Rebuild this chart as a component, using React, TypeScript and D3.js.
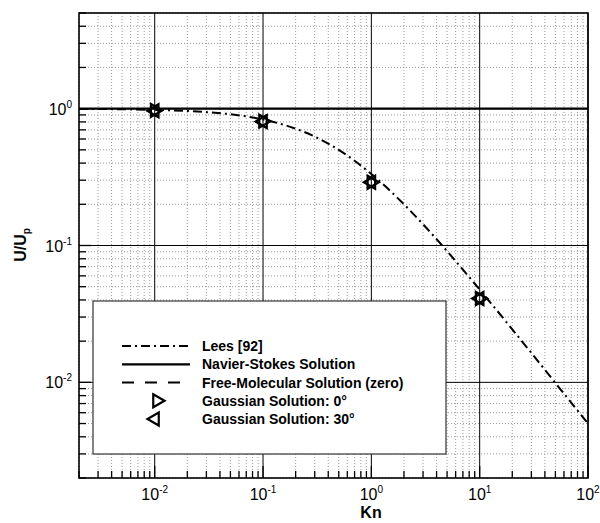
import React from "react";
import * as d3 from "d3";

// Lees [92] curve
const leesKn = [0.002, 0.005, 0.01, 0.02, 0.03, 0.05, 0.1, 0.2, 0.3, 0.5, 1, 2, 3, 5, 10, 20, 30, 50, 100];
const leesU = [0.996, 0.99, 0.98, 0.962, 0.943, 0.91, 0.833, 0.714, 0.625, 0.5, 0.333, 0.2, 0.143, 0.091, 0.0476, 0.0244, 0.0164, 0.0099, 0.005];

// Navier-Stokes
const nsKn = [0.002, 100];
const nsU = [1, 1];

// Gaussian solutions
const gaussKn = [0.01, 0.1, 1, 10];
const gauss0 = [0.97, 0.81, 0.29, 0.041];
const gauss30 = [0.965, 0.805, 0.29, 0.041];

const xTickExps = [-2, -1, 0, 1, 2];
const yTickExps = [-2, -1, 0];

const legendLabels = [
  "Lees [92]",
  "Navier-Stokes Solution",
  "Free-Molecular Solution (zero)",
  "Gaussian Solution: 0°",
  "Gaussian Solution: 30°",
];

const FONT = "'Liberation Sans', Arial, Helvetica, sans-serif";

export default function App() {
  const L = 79, R = 588, T = 13, B = 478;
  const x = d3.scaleLog().domain([0.002, 100]).range([L, R]);
  const y = d3.scaleLog().domain([0.002, 5]).range([B, T]);

  const xMinor: number[] = [];
  for (let e = -3; e <= 2; e++) for (let m = 1; m <= 9; m++) {
    const v = m * Math.pow(10, e);
    if (v >= 0.002 * 0.9999 && v <= 100 * 1.0001) xMinor.push(v);
  }
  const yMinor: number[] = [];
  for (let e = -3; e <= 0; e++) for (let m = 1; m <= 9; m++) {
    const v = m * Math.pow(10, e);
    if (v >= 0.002 * 0.9999 && v <= 5 * 1.0001) yMinor.push(v);
  }
  const isMajor = (v: number) => Math.abs(Math.log10(v) - Math.round(Math.log10(v))) < 1e-9;

  const lineGen = d3
    .line<[number, number]>()
    .x((d) => x(d[0]))
    .y((d) => y(d[1]))
    .curve(d3.curveMonotoneX);

  const lees = lineGen(leesKn.map((k, i) => [k, leesU[i]] as [number, number])) || "";
  const ns = lineGen(nsKn.map((k, i) => [k, nsU[i]] as [number, number])) || "";

  const H = 13;
  const W = (H * Math.sqrt(3)) / 2;
  const triRight = (cx: number, cy: number) =>
    `M${cx - W / 3},${cy - H / 2}L${cx + (2 * W) / 3},${cy}L${cx - W / 3},${cy + H / 2}Z`;
  const triLeft = (cx: number, cy: number) =>
    `M${cx + W / 3},${cy - H / 2}L${cx - (2 * W) / 3},${cy}L${cx + W / 3},${cy + H / 2}Z`;

  const legX = 93, legY = 301, legW = 353, legH = 153;
  const entryY = [346, 364.3, 382.6, 400.8, 419];
  const lineX1 = 122, lineX2 = 190, textX = 202;

  return (
    <svg
      width={600}
      height={523}
      style={{ position: "absolute", left: 0, top: 0, background: "#fff" }}
      fontFamily={FONT}
    >
      <rect x={0} y={0} width={600} height={523} fill="#fff" />
      {/* minor grid */}
      {xMinor.filter((v) => !isMajor(v)).map((v, i) => (
        <line key={"xg" + i} x1={x(v)} x2={x(v)} y1={T} y2={B} stroke="#9a9a9a" strokeWidth={1} strokeDasharray="1,2" />
      ))}
      {yMinor.filter((v) => !isMajor(v)).map((v, i) => (
        <line key={"yg" + i} x1={L} x2={R} y1={y(v)} y2={y(v)} stroke="#9a9a9a" strokeWidth={1} strokeDasharray="1,2" />
      ))}
      {/* major grid */}
      {xTickExps.map((e) => (
        <line key={"xM" + e} x1={x(Math.pow(10, e))} x2={x(Math.pow(10, e))} y1={T} y2={B} stroke="#000" strokeWidth={1} />
      ))}
      {yTickExps.map((e) => (
        <line key={"yM" + e} x1={L} x2={R} y1={y(Math.pow(10, e))} y2={y(Math.pow(10, e))} stroke="#000" strokeWidth={1} />
      ))}
      {/* ticks */}
      {xMinor.map((v, i) => (
        <line key={"xt" + i} x1={x(v)} x2={x(v)} y1={B} y2={B - (isMajor(v) ? 12 : 7)} stroke="#000" strokeWidth={1.3} />
      ))}
      {yMinor.map((v, i) => (
        <line key={"yt" + i} x1={L} x2={L + (isMajor(v) ? 12 : 7)} y1={y(v)} y2={y(v)} stroke="#000" strokeWidth={1.3} />
      ))}

      {/* curves */}
      <path d={ns} fill="none" stroke="#000" strokeWidth={2.2} />
      <path d={lees} fill="none" stroke="#000" strokeWidth={2} strokeDasharray="9,4,2,4" />

      {/* markers */}
      {gaussKn.map((k, i) => (
        <path key={"g0" + i} d={triRight(x(k), y(gauss0[i]))} fill="none" stroke="#000" strokeWidth={2.2} />
      ))}
      {gaussKn.map((k, i) => (
        <path key={"g30" + i} d={triLeft(x(k), y(gauss30[i]))} fill="none" stroke="#000" strokeWidth={2.2} />
      ))}

      {/* frame */}
      <rect x={L} y={T} width={R - L} height={B - T} fill="none" stroke="#000" strokeWidth={1.6} />

      {/* tick labels */}
      {xTickExps.map((e) => (
        <text key={"xl" + e} x={x(Math.pow(10, e))} y={500} textAnchor="middle" fontSize={16} fill="#000">
          10
          <tspan dy={-7} fontSize={10}>{String(e)}</tspan>
        </text>
      ))}
      {yTickExps.map((e) => (
        <text key={"yl" + e} x={72} y={y(Math.pow(10, e)) + 6} textAnchor="end" fontSize={16} fill="#000">
          10
          <tspan dy={-7} fontSize={10}>{String(e)}</tspan>
        </text>
      ))}

      {/* axis titles */}
      <text x={371} y={518} textAnchor="middle" fontSize={16} fontWeight="bold" fill="#000">Kn</text>
      <text transform={`translate(26,245) rotate(-90)`} textAnchor="middle" fontSize={16} fontWeight="bold" fill="#000">
        U/U
        <tspan dy={4} fontSize={10}>p</tspan>
      </text>

      {/* legend */}
      <rect x={legX} y={legY} width={legW} height={legH} fill="#fff" stroke="#333" strokeWidth={1.2} />
      <line x1={lineX1} x2={lineX2} y1={entryY[0]} y2={entryY[0]} stroke="#000" strokeWidth={2} strokeDasharray="9,4,2,4" />
      <line x1={lineX1} x2={lineX2} y1={entryY[1]} y2={entryY[1]} stroke="#000" strokeWidth={2.2} />
      <line x1={lineX1} x2={lineX2} y1={entryY[2]} y2={entryY[2]} stroke="#000" strokeWidth={2} strokeDasharray="12,11" />
      <path d={triRight(157, entryY[3])} fill="none" stroke="#000" strokeWidth={2.2} />
      <path d={triLeft(155, entryY[4])} fill="none" stroke="#000" strokeWidth={2.2} />
      {legendLabels.map((t, i) => (
        <text key={"lg" + i} x={textX} y={entryY[i] + 5} fontSize={14} fontWeight="bold" fill="#000">{t}</text>
      ))}
    </svg>
  );
}
